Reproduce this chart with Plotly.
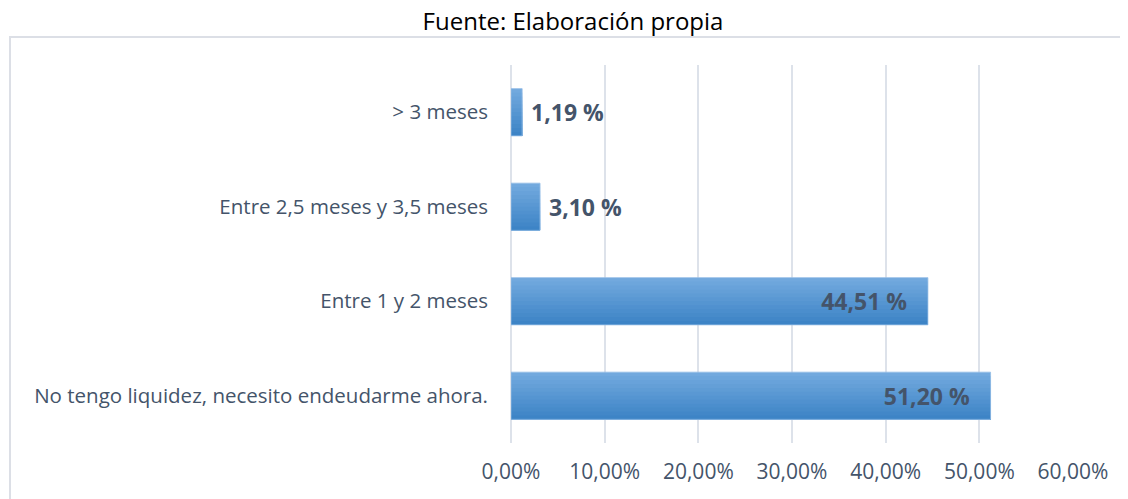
import plotly.graph_objects as go

categories = ["No tengo liquidez, necesito endeudarme ahora.",
              "Entre 1 y 2 meses",
              "Entre 2,5 meses y 3,5 meses",
              "> 3 meses"]
values_pct = [51.20, 44.51, 3.10, 1.19]
tick_vals = [0, 0.1, 0.2, 0.3, 0.4, 0.5, 0.6]
title_text = "Fuente: Elaboración propia"

values = [v / 100 for v in values_pct]
positions = ["inside", "inside", "outside", "outside"]
labels = []
for v, p in zip(values_pct, positions):
    s = f"{v:.2f}".replace(".", ",") + " %"
    if p == "inside":
        s = s + "\u00a0" * 3
    else:
        s = "\u00a0" + s
    labels.append(s)

FONT = "Open Sans"
fig = go.Figure()

# vertical gradient: light at top, dark at bottom
N = 12
light = (0x72, 0xa9, 0xde)
dark = (0x3d, 0x84, 0xc6)
bw = 0.5
for i in range(N):
    t = i / (N - 1)
    c = tuple(round(light[k] + (dark[k] - light[k]) * t) for k in range(3))
    w = bw * (N - i) / N
    fig.add_trace(go.Bar(
        y=categories, x=values, orientation="h",
        width=w, offset=-bw / 2,
        marker=dict(color="rgb(%d,%d,%d)" % c, line=dict(width=0)),
        hoverinfo="skip", showlegend=False,
    ))

lblfont = dict(family=FONT, size=23, color="#44546a", weight="bold")
fig.add_trace(go.Bar(
    y=categories, x=values, orientation="h",
    width=bw, offset=-bw / 2,
    marker=dict(color="rgba(0,0,0,0)", line=dict(width=1, color="rgba(150,190,230,0.8)")),
    text=labels, textposition=positions, insidetextanchor="end",
    constraintext="none", cliponaxis=False,
    textfont=lblfont, insidetextfont=lblfont, outsidetextfont=lblfont,
    showlegend=False,
))

# page body has an 8px margin, so the figure is offset by 8px
W, H = 1120, 491
fig.update_layout(
    barmode="overlay",
    width=W, height=H,
    margin=dict(l=503, r=55, t=57, b=56),
    paper_bgcolor="white", plot_bgcolor="white",
    separators=",.",
    font=dict(family=FONT, color="#44546a"),
    title=dict(text=title_text, x=(573 - 8) / W, xanchor="center",
               y=1 - 14 / H, yanchor="middle",
               font=dict(family=FONT, size=24, color="#000000")),
    xaxis=dict(range=[0, 0.6], tickvals=tick_vals, tickformat=".2%",
               showgrid=True, gridcolor="#dde2ea", gridwidth=2,
               zeroline=True, zerolinecolor="#dde2ea", zerolinewidth=2,
               showline=False, ticks="", ticklabelstandoff=14,
               tickfont=dict(family=FONT, size=21, color="#44546a")),
    yaxis=dict(categoryorder="array", categoryarray=categories,
               range=[-0.5, 3.5], showgrid=False, zeroline=False, showline=False,
               ticks="", ticklabelstandoff=22,
               tickfont=dict(family=FONT, size=20.5, color="#44546a")),
    shapes=[dict(type="rect", xref="paper", yref="paper",
                 x0=(2 - 503) / 562, x1=1.3, y0=-0.5, y1=(435 - 29) / 378,
                 line=dict(color="#dcdfe6", width=2), fillcolor="rgba(0,0,0,0)",
                 layer="below")],
)

fig.write_html("out.html")
